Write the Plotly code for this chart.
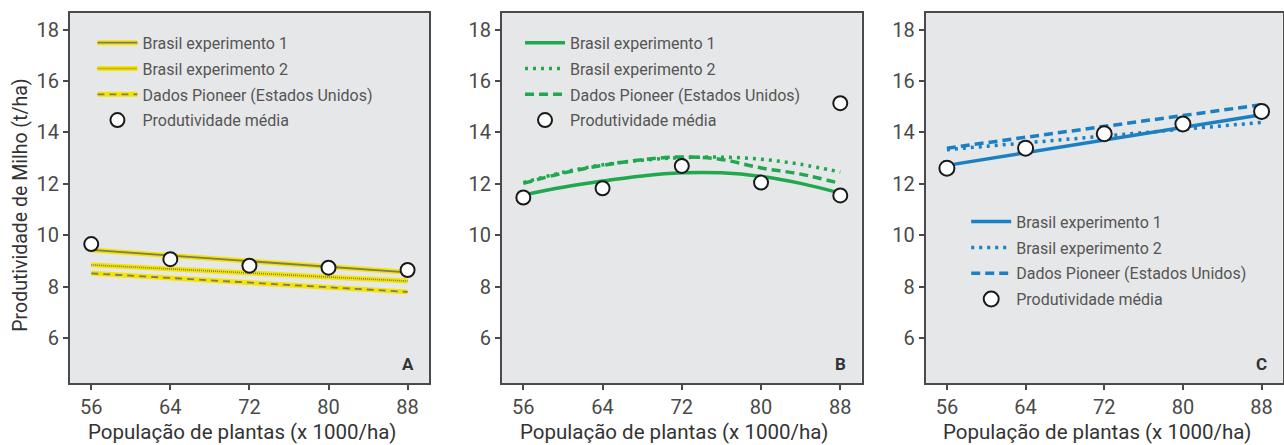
import plotly.graph_objects as go

# Plant population (x 1000 plants/ha)
pop = [56, 64, 72, 80, 88]
pop_fine = [56, 60, 64, 68, 72, 76, 80, 84, 88]

# Panel A - yield trends (t/ha)
a_exp1 = [9.43, 9.21, 9.00, 8.78, 8.56]
a_exp2 = [8.85, 8.69, 8.54, 8.38, 8.22]
a_pioneer = [8.52, 8.34, 8.16, 7.98, 7.80]
a_mean = [9.66, 9.07, 8.82, 8.74, 8.65]

# Panel B - quadratic responses
b_exp1 = [11.57, 11.87, 12.11, 12.31, 12.43, 12.43, 12.29, 12.02, 11.64]
b_exp2 = [12.05, 12.45, 12.74, 12.92, 13.02, 13.04, 12.96, 12.76, 12.46]
b_pioneer = [12.02, 12.42, 12.72, 12.94, 13.05, 12.95, 12.62, 12.38, 12.02]
b_mean_x = [56, 64, 72, 80, 88, 88]
b_mean = [11.47, 11.83, 12.70, 12.05, 11.55, 15.14]

# Panel C - increasing trends
c_exp1 = [12.72, 13.21, 13.70, 14.20, 14.69]
c_exp2 = [13.33, 13.60, 13.86, 14.13, 14.39]
c_pioneer = [13.39, 13.81, 14.24, 14.66, 15.08]
c_mean = [12.61, 13.39, 13.95, 14.33, 14.82]

names = ["Brasil experimento 1", "Brasil experimento 2",
         "Dados Pioneer (Estados Unidos)", "Produtividade média"]
panel_labels = ["A", "B", "C"]
x_ticks = [56, 64, 72, 80, 88]
y_ticks = [6, 8, 10, 12, 14, 16, 18]
x_title = "População de plantas (x 1000/ha)"
y_title = "Produtividade de Milho (t/ha)"

FONT = "Roboto, 'Open Sans', sans-serif"
YELLOW = "#f5e400"
OLIVE = "#7c7a62"
GREEN = "#1fa84d"
BLUE = "#1b80c3"

fig = go.Figure()


def add_line(x, y, color, width, dash, name, axis, legend, shape="linear"):
    fig.add_trace(go.Scatter(
        x=x, y=y, mode="lines", name=name,
        line=dict(color=color, width=width, dash=dash, shape=shape),
        xaxis="x" + axis, yaxis="y" + axis,
        legend=legend, legendgroup=legend + name,
        hoverinfo="skip"))


def add_points(x, y, axis, legend, size):
    fig.add_trace(go.Scatter(
        x=x, y=y, mode="markers", name=names[3],
        marker=dict(size=size, color="white", line=dict(color="#1a1a1a", width=2)),
        xaxis="x" + axis, yaxis="y" + axis,
        legend=legend, legendgroup=legend + names[3]))


# Panel A: yellow band under a grey patterned line
add_line(pop, a_exp1, YELLOW, 5, "solid", names[0], "", "legend")
add_line(pop, a_exp2, YELLOW, 5, "solid", names[1], "", "legend")
add_line(pop, a_pioneer, YELLOW, 5, "solid", names[2], "", "legend")
add_line(pop, a_exp1, OLIVE, 1.8, "solid", names[0], "", "legend2")
add_line(pop, a_exp2, OLIVE, 1.6, "1px,1px", names[1], "", "legend2")
add_line(pop, a_pioneer, OLIVE, 1.8, "7px,5px", names[2], "", "legend2")
add_points(pop, a_mean, "", "legend2", 14)

# Panel B
add_line(pop_fine, b_exp1, GREEN, 3.5, "solid", names[0], "2", "legend3", "spline")
add_line(pop_fine, b_exp2, GREEN, 3.5, "3px,5px", names[1], "2", "legend3", "spline")
add_line(pop_fine, b_pioneer, GREEN, 3.5, "9px,5px", names[2], "2", "legend3", "spline")
add_points(b_mean_x, b_mean, "2", "legend3", 14)

# Panel C
add_line(pop, c_exp1, BLUE, 3.5, "solid", names[0], "3", "legend4")
add_line(pop, c_exp2, BLUE, 3.5, "3px,5px", names[1], "3", "legend4")
add_line(pop, c_pioneer, BLUE, 3.5, "9px,5px", names[2], "3", "legend4")
add_points(pop, c_mean, "3", "legend4", 15)

x_domains = [[0.0545, 0.334], [0.391, 0.671], [0.721, 0.999]]
y_domain = [0.139, 0.971]

axis_common = dict(
    showgrid=False, zeroline=False, showline=True, linecolor="#4a4a4a",
    linewidth=2, mirror=True, ticks="outside", ticklen=5, tickwidth=1.5,
    tickcolor="#4a4a4a", tickfont=dict(family=FONT, size=20, color="#4a4a4a"))

layout = dict(
    width=1284, height=445, margin=dict(l=0, r=0, t=0, b=0),
    paper_bgcolor="white", plot_bgcolor="#e6e7e8",
    font=dict(family=FONT, color="#444"),
)
for i, suf in enumerate(["", "2", "3"]):
    layout["xaxis" + suf] = dict(
        axis_common, domain=x_domains[i], range=[53.85, 90.15],
        tickvals=x_ticks, anchor="y" + suf)
    layout["yaxis" + suf] = dict(
        axis_common, domain=y_domain, range=[4.25, 18.65],
        tickvals=y_ticks, anchor="x" + suf)
fig.update_layout(**layout)

# Axis titles as free text so they can sit slightly left of each panel's centre
for i in range(3):
    centre = (x_domains[i][0] + x_domains[i][1]) / 2 - 0.0055
    fig.add_annotation(
        text=x_title, xref="paper", yref="paper", x=centre, y=0.029,
        xanchor="center", yanchor="middle", showarrow=False,
        font=dict(family=FONT, size=20.5, color="#333"))

fig.add_annotation(
    text=y_title, textangle=-90,
    xref="paper", yref="paper", x=0.016, y=0.539,
    xanchor="center", yanchor="middle", showarrow=False,
    font=dict(family=FONT, size=19.5, color="#333"))

legend_common = dict(
    bgcolor="rgba(0,0,0,0)", borderwidth=0, tracegroupgap=2, itemwidth=40,
    xanchor="left", yanchor="top", itemclick=False, itemdoubleclick=False)
fig.update_layout(
    legend=dict(legend_common, x=0.072, y=0.942,
                font=dict(family=FONT, size=16, color="rgba(0,0,0,0)")),
    legend2=dict(legend_common, x=0.072, y=0.942,
                 font=dict(family=FONT, size=16, color="#555")),
    legend3=dict(legend_common, x=0.405, y=0.942,
                 font=dict(family=FONT, size=16, color="#555")),
    legend4=dict(legend_common, x=0.7525, y=0.540,
                 font=dict(family=FONT, size=16, color="#555")),
)

for i, suf in enumerate(["x", "x2", "x3"]):
    fig.add_annotation(
        text="<b>" + panel_labels[i] + "</b>", xref=suf, yref=("y" + suf[1:]) + " domain",
        x=88, y=0.02, xanchor="center", yanchor="bottom", showarrow=False,
        font=dict(family=FONT, size=17, color="#333"))

fig.write_html("out.html")
